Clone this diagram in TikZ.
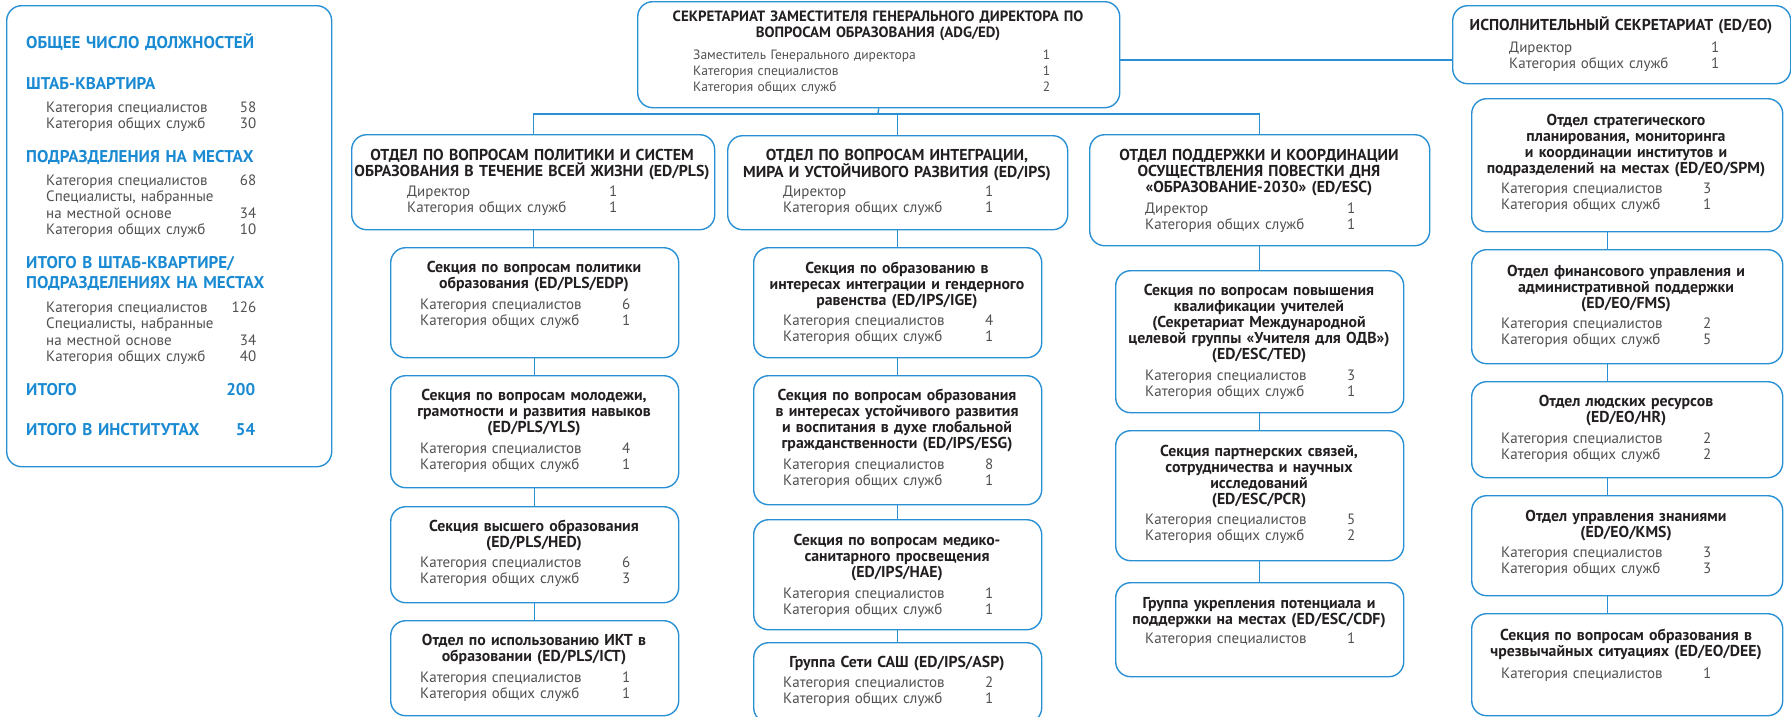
\documentclass[tikz,border=0pt]{standalone}
\usepackage{fontspec}
\setmainfont{PT Sans}
\definecolor{bl}{HTML}{2A90D4}
\definecolor{hd}{HTML}{1A8AD2}
\definecolor{tx}{HTML}{505050}
\definecolor{tt}{HTML}{231F20}
\tikzset{
 box/.style={draw=bl, line width=1.4pt, rounded corners=15pt, inner sep=0pt, anchor=north west},
 ttl/.style={font=\bfseries\fontsize{15.8}{16}\selectfont, text=tt, align=center, inner sep=0pt, anchor=base, text width=420pt},
 rows/.style={font=\fontsize{15}{16.5}\selectfont, text=tx, align=left, inner sep=0pt, anchor=base west, text width=210pt},
 hdg/.style={font=\bfseries\fontsize{17}{20}\selectfont, text=hd, align=left, inner sep=0pt, anchor=base west, text width=229pt},
 conn/.style={draw=bl, line width=1.4pt},
}
\newcommand\obox[5]{\node[box, minimum width={(#4)-(#2)}, minimum height={(#5)-(#3)}] (#1) at (#2,#3) {};}
\begin{document}
\begin{tikzpicture}[x=1pt,y=-1pt]
\useasboundingbox (0,0) rectangle (1791,716);
% left panel
\obox{tot}{6}{5}{331}{466}
\node[hdg] (h1) at (26,48) {ОБЩЕЕ ЧИСЛО ДОЛЖНОСТЕЙ};
\node[hdg] (h2) at (26,89) {ШТАБ-КВАРТИРА};
\node[rows] (r2) at (46,112) {Категория специалистов\hfill 58\\Категория общих служб\hfill 30};
\node[hdg] (h3) at (26,162) {ПОДРАЗДЕЛЕНИЯ НА МЕСТАХ};
\node[rows] (r3) at (46,185) {Категория специалистов\hfill 68\\Специалисты, набранные\\на местной основе\hfill 34\\Категория общих служб\hfill 10};
\node[hdg, text width=270pt] (h4) at (26,268) {ИТОГО В ШТАБ-КВАРТИРЕ/\\ПОДРАЗДЕЛЕНИЯХ НА МЕСТАХ};
\node[rows] (r4) at (46,312) {Категория специалистов\hfill 126\\Специалисты, набранные\\на местной основе\hfill 34\\Категория общих служб\hfill 40};
\node[hdg] (h5) at (26,395) {ИТОГО\hfill 200};
\node[hdg] (h6) at (26,435) {ИТОГО В ИНСТИТУТАХ\hfill 54};
% top
\obox{adg}{637}{1}{1119}{107}
\node[ttl, font=\bfseries\fontsize{14.9}{16}\selectfont, text width=520pt] (adg-t) at (878,21) {СЕКРЕТАРИАТ ЗАМЕСТИТЕЛЯ ГЕНЕРАЛЬНОГО ДИРЕКТОРА ПО\\ВОПРОСАМ ОБРАЗОВАНИЯ (ADG/ED)};
\node[rows, font=\fontsize{13.5}{16}\selectfont, text width=357pt] (adg-r) at (693,59) {Заместитель Генерального директора\hfill 1\\Категория специалистов\hfill 1\\Категория общих служб\hfill 2};
\obox{eo}{1452}{5}{1790}{83}
\node[ttl] (eo-t) at (1621,30) {ИСПОЛНИТЕЛЬНЫЙ СЕКРЕТАРИАТ (ED/EO)};
\node[rows] (eo-r) at (1509,52) {Директор\hfill 1\\Категория общих служб\hfill 1};
% departments
\obox{pls}{351}{134}{714}{229}
\node[ttl] (pls-t) at (532,160) {ОТДЕЛ ПО ВОПРОСАМ ПОЛИТИКИ И СИСТЕМ\\ОБРАЗОВАНИЯ В ТЕЧЕНИЕ ВСЕЙ ЖИЗНИ (ED/PLS)};
\node[rows] (pls-r) at (407,196) {Директор\hfill 1\\Категория общих служб\hfill 1};
\obox{ips}{727}{135}{1067}{229}
\node[ttl] (ips-t) at (897,160) {ОТДЕЛ ПО ВОПРОСАМ ИНТЕГРАЦИИ,\\МИРА И УСТОЙЧИВОГО РАЗВИТИЯ (ED/IPS)};
\node[rows] (ips-r) at (783,196) {Директор\hfill 1\\Категория общих служб\hfill 1};
\obox{esc}{1089}{134}{1429}{245}
\node[ttl] (esc-t) at (1259,160) {ОТДЕЛ ПОДДЕРЖКИ И КООРДИНАЦИИ\\ОСУЩЕСТВЛЕНИЯ ПОВЕСТКИ ДНЯ\\«ОБРАЗОВАНИЕ-2030» (ED/ESC)};
\node[rows] (esc-r) at (1145,213) {Директор\hfill 1\\Категория общих служб\hfill 1};
% PLS sections
\obox{edp}{390}{247}{678}{357}
\node[ttl] (edp-t) at (534,272) {Секция по вопросам политики\\образования (ED/PLS/EDP)};
\node[rows] (edp-r) at (420,309) {Категория специалистов\hfill 6\\Категория общих служб\hfill 1};
\obox{yls}{390}{375}{678}{487}
\node[ttl] (yls-t) at (534,400) {Секция по вопросам молодежи,\\грамотности и развития навыков\\(ED/PLS/YLS)};
\node[rows] (yls-r) at (420,453) {Категория специалистов\hfill 4\\Категория общих служб\hfill 1};
\obox{hed}{390}{506}{678}{602}
\node[ttl] (hed-t) at (534,531) {Секция высшего образования\\(ED/PLS/HED)};
\node[rows] (hed-r) at (420,567) {Категория специалистов\hfill 6\\Категория общих служб\hfill 3};
\obox{ict}{390}{620}{678}{715}
\node[ttl] (ict-t) at (534,645) {Отдел по использованию ИКТ в\\образовании (ED/PLS/ICT)};
\node[rows] (ict-r) at (420,682) {Категория специалистов\hfill 1\\Категория общих служб\hfill 1};
% IPS sections
\obox{ige}{753}{247}{1041}{357}
\node[ttl] (ige-t) at (897,273) {Секция по образованию в\\интересах интеграции и гендерного\\равенства (ED/IPS/IGE)};
\node[rows] (ige-r) at (783,325) {Категория специалистов\hfill 4\\Категория общих служб\hfill 1};
\obox{esg}{753}{375}{1041}{504}
\node[ttl] (esg-t) at (897,400) {Секция по вопросам образования\\в интересах устойчивого развития\\и воспитания в духе глобальной\\гражданственности (ED/IPS/ESG)};
\node[rows] (esg-r) at (783,469) {Категория специалистов\hfill 8\\Категория общих служб\hfill 1};
\obox{hae}{753}{519}{1041}{629}
\node[ttl] (hae-t) at (897,545) {Секция по вопросам медико-\\санитарного просвещения\\(ED/IPS/HAE)};
\node[rows] (hae-r) at (783,598) {Категория специалистов\hfill 1\\Категория общих служб\hfill 1};
\obox{asp}{753}{642}{1041}{722}
\node[ttl] (asp-t) at (897,667) {Группа Сети САШ (ED/IPS/ASP)};
\node[rows] (asp-r) at (783,687) {Категория специалистов\hfill 2\\Категория общих служб\hfill 1};
% ESC sections
\obox{ted}{1115}{270}{1403}{412}
\node[ttl] (ted-t) at (1259,295) {Секция по вопросам повышения\\квалификации учителей\\(Секретариат Международной\\целевой группы «Учителя для ОДВ»)\\(ED/ESC/TED)};
\node[rows] (ted-r) at (1145,380) {Категория специалистов\hfill 3\\Категория общих служб\hfill 1};
\obox{pcr}{1115}{430}{1403}{560}
\node[ttl] (pcr-t) at (1259,456) {Секция партнерских связей,\\сотрудничества и научных\\исследований\\(ED/ESC/PCR)};
\node[rows] (pcr-r) at (1145,524) {Категория специалистов\hfill 5\\Категория общих служб\hfill 2};
\obox{cdf}{1115}{582}{1403}{676}
\node[ttl] (cdf-t) at (1259,608) {Группа укрепления потенциала и\\поддержки на местах (ED/ESC/CDF)};
\node[rows] (cdf-r) at (1145,643) {Категория специалистов\hfill 1};
% EO sections
\obox{spm}{1471}{98}{1782}{231}
\node[ttl] (spm-t) at (1626,125) {Отдел стратегического\\планирования, мониторинга\\и координации институтов и\\подразделений на местах (ED/EO/SPM)};
\node[rows] (spm-r) at (1501,193) {Категория специалистов\hfill 3\\Категория общих служб\hfill 1};
\obox{fms}{1471}{249}{1782}{363}
\node[ttl] (fms-t) at (1626,276) {Отдел финансового управления и\\административной поддержки\\(ED/EO/FMS)};
\node[rows] (fms-r) at (1501,328) {Категория специалистов\hfill 2\\Категория общих служб\hfill 5};
\obox{hr}{1471}{381}{1782}{477}
\node[ttl] (hr-t) at (1626,406) {Отдел людских ресурсов\\(ED/EO/HR)};
\node[rows] (hr-r) at (1501,443) {Категория специалистов\hfill 2\\Категория общих служб\hfill 2};
\obox{kms}{1471}{495}{1782}{595}
\node[ttl] (kms-t) at (1626,521) {Отдел управления знаниями\\(ED/EO/KMS)};
\node[rows] (kms-r) at (1501,557) {Категория специалистов\hfill 3\\Категория общих служб\hfill 3};
\obox{dee}{1471}{613}{1782}{715}
\node[ttl] (dee-t) at (1626,640) {Секция по вопросам образования в\\чрезвычайных ситуациях (ED/EO/DEE)};
\node[rows] (dee-r) at (1501,678) {Категория специалистов\hfill 1};
% connectors
\coordinate (bus) at (878,114);
\coordinate (lk) at (1119,60);
\draw[conn] (adg.south) -- (bus);
\draw[conn] (pls.north) |- (bus) -| (esc.north);
\draw[conn] (ips.north) -- (ips.north |- bus);
\draw[conn] (adg.east |- lk) -- (eo.west |- lk);
\foreach \a/\b in {pls/edp, edp/yls, yls/hed, hed/ict, ips/ige, ige/esg, esg/hae, hae/asp, esc/ted, ted/pcr, pcr/cdf}
  \draw[conn] (\a.south) -- (\a.south |- \b.north);
\foreach \a/\b in {spm/fms, fms/hr, hr/kms, kms/dee}
  \draw[conn] ([xshift=-20pt]\a.south) -- ([xshift=-20pt]\a.south |- \b.north);
\end{tikzpicture}
\end{document}
